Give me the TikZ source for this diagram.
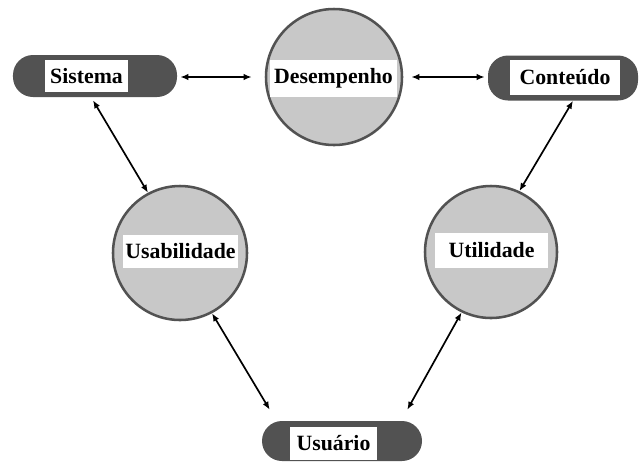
\documentclass[tikz,border=0pt]{standalone}
\usepackage{fontspec}
\setmainfont{Liberation Serif}
\usetikzlibrary{arrows.meta,positioning,calc}
\definecolor{pilldark}{RGB}{82,82,82}
\definecolor{ballgray}{RGB}{200,200,200}

\begin{document}
\begin{tikzpicture}[x=0.25mm,y=-0.25mm,>={Latex[length=2mm,width=1.6mm]},
 pill/.style={fill=pilldark,rounded corners=5mm,inner sep=0pt},
 ball/.style={circle,draw=pilldark,line width=1.8pt,fill=ballgray,inner sep=0pt,minimum size=33.5mm},
 tag/.style={fill=white,inner sep=0pt,font=\fontsize{15.5}{17}\selectfont\bfseries},
 arr/.style={<->,line width=1.2pt}]
\useasboundingbox (0,0) rectangle (641,461);
\node[pill,minimum width=41mm,minimum height=10.5mm](sis) at (95,76){};
\node[pill,minimum width=37.5mm,minimum height=11.25mm](con) at (563,78){};
\node[pill,minimum width=40mm,minimum height=10mm](usr) at (342,441){};
\node[ball,minimum size=34mm](des) at (334,77){};
\node[ball](usa) at (180,253){};
\node[ball,minimum size=33mm](uti) at (491,252){};
\node[tag,minimum width=20.75mm,minimum height=8mm](sisl) at (86.5,76){Sistema};
\node[tag,minimum width=27.5mm,minimum height=8.75mm](conl) at (565,77.5){Conteúdo};
\node[tag,minimum width=21.75mm,minimum height=8.25mm](usrl) at (333.5,443.5){Usuário};
\node[tag,minimum width=31.75mm,minimum height=9.25mm](desl) at (333.5,78.5){Desempenho};
\node[tag,minimum width=28.75mm,minimum height=8.25mm](usal) at (180.5,251.5){Usabilidade};
\node[tag,minimum width=28.25mm,minimum height=8.75mm](util) at (491.5,250.5){Utilidade};
\draw[arr]([shift={(3,1)}]sis.east)--([shift={(-13,0)}]des.west);
\draw[arr]([shift={(8,0)}]des.east)--([shift={(-3,-1)}]con.west);
\draw[arr]([shift={(-2,3)}]sis.south)--(usa.118);
\draw[arr](uti.65)--([shift={(10,0)}]con.south);
\draw[arr](usa.-62)--([shift={(8,-11)}]usr.north west);
\draw[arr](uti.244)--([shift={(-15,-11)}]usr.north east);
\end{tikzpicture}
\end{document}
